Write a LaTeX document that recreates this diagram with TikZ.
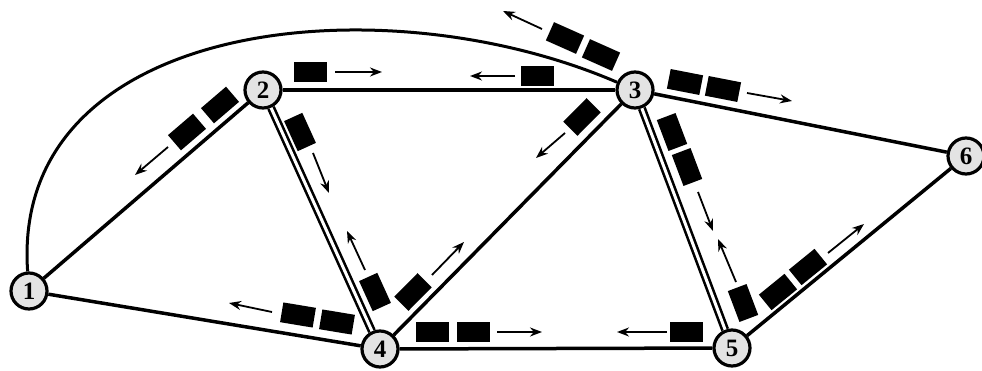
\documentclass[tikz,border=0pt]{standalone}
\usepackage{fontspec}
\setmainfont{Liberation Serif}
\usetikzlibrary{arrows.meta}
\begin{document}
\begin{tikzpicture}[x=1pt,y=-1pt,
 city/.style={circle,draw=black,line width=3.2pt,fill=gray!22,minimum size=36pt,inner sep=0pt,font=\fontsize{25}{25}\selectfont\bfseries},
 road/.style={line width=3.5pt},
 droad/.style={line width=2.6pt,double=white,double distance=3pt},
 veh/.style={fill=black,minimum width=33pt,minimum height=20pt,inner sep=0pt},
 mv/.style={line width=1.8pt,-{Stealth[length=12pt,width=9pt]}}]
\useasboundingbox (0,0) rectangle (982,371);
% cities
\node[city] (n1) at (29,291) {1};
\node[city] (n2) at (263,90) {2};
\node[city] (n3) at (635,90) {3};
\node[city] (n4) at (380,349) {4};
\node[city] (n5) at (732,348) {5};
\node[city] (n6) at (966,156) {6};
% roads
\draw[road] (n1) -- (n2);
\draw[road] (n2) -- (n3);
\draw[road] (n1) -- (n4);
\draw[road] (n3) -- (n4);
\draw[road] (n3) -- (n6);
\draw[road] (n4) -- (n5);
\draw[road] (n5) -- (n6);
\draw[droad] (n2) -- (n4);
\draw[droad] (n3) -- (n5);
\draw[line width=3pt] (n1) .. controls (10,20) and (380,-20) .. (n3);
% vehicles
\node[veh,rotate=40.6] (v1a) at (220,105) {};
\node[veh,rotate=40.6] (v1b) at (187,132) {};
\coordinate (a1s) at (168,147); \coordinate (a1e) at (135,175);
\draw[mv] (a1s) -- (a1e);

\node[veh] (v2) at (310,72) {};
\coordinate (a2s) at (335,72); \coordinate (a2e) at (382,72);
\draw[mv] (a2s) -- (a2e);

\node[veh] (v3) at (537,76) {};
\coordinate (a3s) at (515,76); \coordinate (a3e) at (470,76);
\draw[mv] (a3s) -- (a3e);

\node[veh,rotate=-24] (v4a) at (565,38) {};
\node[veh,rotate=-24] (v4b) at (601,55) {};
\coordinate (a4s) at (542,29); \coordinate (a4e) at (503,11);
\draw[mv] (a4s) -- (a4e);

\node[veh,rotate=-11] (v5a) at (685,82) {};
\node[veh,rotate=-11] (v5b) at (723,89) {};
\coordinate (a5s) at (747,93); \coordinate (a5e) at (792,101);
\draw[mv] (a5s) -- (a5e);

\node[veh,rotate=-65.6] (v6) at (300,132) {};
\coordinate (a6s) at (313,153); \coordinate (a6e) at (329,193);
\draw[mv] (a6s) -- (a6e);

\node[veh,rotate=45.3] (v7) at (582,117) {};
\coordinate (a7s) at (565,133); \coordinate (a7e) at (536,158);
\draw[mv] (a7s) -- (a7e);

\node[veh,rotate=-69.3] (v8a) at (672,132) {};
\node[veh,rotate=-69.3] (v8b) at (687,167) {};
\coordinate (a8s) at (698,192); \coordinate (a8e) at (713,231);
\draw[mv] (a8s) -- (a8e);

\node[veh,rotate=-65.6] (v9) at (375,292) {};
\coordinate (a9s) at (365,270); \coordinate (a9e) at (347,231);
\draw[mv] (a9s) -- (a9e);

\node[veh,rotate=45.3] (v10) at (413,292) {};
\coordinate (a10s) at (432,275); \coordinate (a10e) at (464,242);
\draw[mv] (a10s) -- (a10e);

\node[veh] (v11a) at (432,332) {};
\node[veh] (v11b) at (473,332) {};
\coordinate (a11s) at (497,332); \coordinate (a11e) at (542,332);
\draw[mv] (a11s) -- (a11e);

\node[veh] (v12) at (686,332) {};
\coordinate (a12s) at (667,332); \coordinate (a12e) at (617,332);
\draw[mv] (a12s) -- (a12e);

\node[veh,rotate=-69.3] (v13) at (743,303) {};
\coordinate (a13s) at (736,282); \coordinate (a13e) at (718,239);
\draw[mv] (a13s) -- (a13e);

\node[veh,rotate=39.1] (v14a) at (778,292) {};
\node[veh,rotate=39.1] (v14b) at (808,267) {};
\coordinate (a14s) at (828,253); \coordinate (a14e) at (864,224);
\draw[mv] (a14s) -- (a14e);

\node[veh,rotate=-9.4] (v15a) at (298,315) {};
\node[veh,rotate=-9.4] (v15b) at (337,322) {};
\coordinate (a15s) at (272,312); \coordinate (a15e) at (229,303);
\draw[mv] (a15s) -- (a15e);
\end{tikzpicture}
\end{document}
